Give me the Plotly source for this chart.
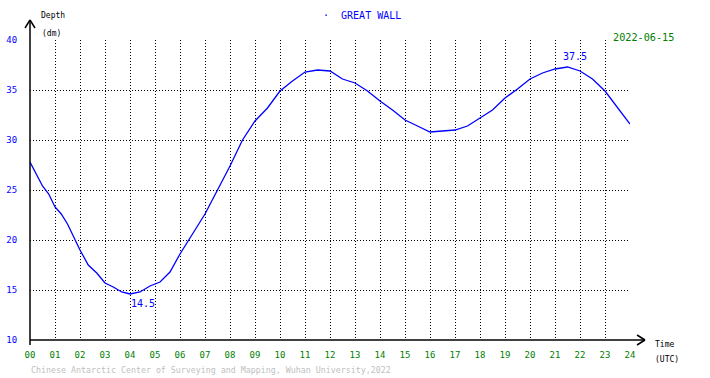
import plotly.graph_objects as go

# ---- data ----
hours = [0, 0.25, 0.5, 0.75, 1, 1.25, 1.5, 1.75, 2, 2.33, 2.67, 3, 3.33, 3.67, 4, 4.4, 4.8, 5.2, 5.6, 6, 6.5, 7,
         7.5, 8, 8.5, 9, 9.5, 10, 10.5, 11, 11.5, 12, 12.5, 13, 13.5, 14, 14.5, 15, 15.5, 16, 16.5,
         17, 17.5, 18, 18.5, 19, 19.5, 20, 20.5, 21, 21.5, 22, 22.5, 23, 23.5, 24]
depth = [27.8, 26.6, 25.4, 24.6, 23.3, 22.6, 21.6, 20.3, 19.0, 17.5, 16.7, 15.7, 15.3, 14.8, 14.6, 14.8, 15.4, 15.8, 16.8, 18.6, 20.6, 22.6,
         25.0, 27.4, 30.0, 31.9, 33.2, 34.9, 35.9, 36.8, 37.0, 36.9, 36.1, 35.7, 34.9, 33.9, 33.0, 32.0, 31.4, 30.8, 30.9,
         31.0, 31.4, 32.2, 33.0, 34.2, 35.1, 36.1, 36.7, 37.1, 37.3, 36.9, 36.1, 34.9, 33.2, 31.6]

x_tickvals = list(range(0, 25))
x_ticktext = ["%02d" % h for h in x_tickvals]
y_tickvals = [10, 15, 20, 25, 30, 35, 40]
y_ticktext = [str(v) for v in y_tickvals]

min_label = {"x": 4.5, "y": 14.5, "text": "14.5"}
max_label = {"x": 21.8, "y": 37.5, "text": "37.5"}

title_text = "GREAT WALL"
date_text = "2022-06-15"
footer_text = "Chinese Antarctic Center of Surveying and Mapping, Wuhan University,2022"

FONT = "DejaVu Sans Mono"

fig = go.Figure()
fig.add_trace(go.Scatter(x=hours, y=depth, mode="lines",
                         line=dict(color="#0000ff", width=1.3), hoverinfo="skip"))

fig.update_layout(
    width=710, height=378,
    margin=dict(l=30, r=80, t=40, b=38, autoexpand=False),
    paper_bgcolor="white", plot_bgcolor="white",
    showlegend=False,
    font=dict(family=FONT, size=9),
)

fig.update_xaxes(range=[0, 24], tickvals=x_tickvals, ticktext=x_ticktext,
                 showgrid=True, gridcolor="black", griddash="1px,2px", gridwidth=1,
                 zeroline=False, showline=False, automargin=False,
                 ticks="outside", ticklen=6, tickcolor="rgba(0,0,0,0)",
                 tickfont=dict(family=FONT, size=9, color="#008000"))
fig.update_yaxes(range=[10, 40], tickvals=y_tickvals, ticktext=y_ticktext,
                 showgrid=True, gridcolor="black", griddash="1px,2px", gridwidth=1,
                 zeroline=False, showline=False, automargin=False,
                 ticks="outside", ticklen=10, tickcolor="rgba(0,0,0,0)",
                 tickfont=dict(family=FONT, size=9, color="#0000ff"))

# axis lines with arrows (paper coords: x 600 px per unit, y 300 px per unit)
px = 1 / 600.0
py = 1 / 300.0
shapes = [
    # y axis
    dict(type="line", xref="paper", yref="paper", x0=0, x1=0, y0=-5 * py, y1=320 * py),
    dict(type="line", xref="paper", yref="paper", x0=-5 * px, x1=0, y0=312 * py, y1=320 * py),
    dict(type="line", xref="paper", yref="paper", x0=5 * px, x1=0, y0=312 * py, y1=320 * py),
    # x axis
    dict(type="line", xref="paper", yref="paper", x0=0, x1=615 * px, y0=0, y1=0),
    dict(type="line", xref="paper", yref="paper", x0=607 * px, x1=615 * px, y0=5 * py, y1=0),
    dict(type="line", xref="paper", yref="paper", x0=607 * px, x1=615 * px, y0=-5 * py, y1=0),
]
for s in shapes:
    s["line"] = dict(color="black", width=1.5)
fig.update_layout(shapes=shapes)

ann = [
    dict(x=min_label["x"], y=min_label["y"], xref="x", yref="y", text=min_label["text"],
         showarrow=False, yanchor="top", yshift=-1, font=dict(family=FONT, size=10, color="#0000ff")),
    dict(x=max_label["x"], y=max_label["y"], xref="x", yref="y", text=max_label["text"],
         showarrow=False, yanchor="bottom", yshift=1, font=dict(family=FONT, size=10, color="#0000ff")),
    dict(x=362, y=16, xref="paper", yref="paper", text="·  " + title_text, showarrow=False,
         font=dict(family=FONT, size=10, color="#0000ff")),
    dict(x=611, y=37, xref="paper", yref="paper", text=date_text, showarrow=False,
         font=dict(family=FONT, size=10.2, color="#008000")),
    dict(x=39, y=16, xref="paper", yref="paper", text="Depth", showarrow=False,
         font=dict(family=FONT, size=8, color="black")),
    dict(x=40, y=34, xref="paper", yref="paper", text="(dm)", showarrow=False,
         font=dict(family=FONT, size=8, color="black")),
    dict(x=653, y=344, xref="paper", yref="paper", text="Time", showarrow=False,
         font=dict(family=FONT, size=8, color="black")),
    dict(x=653, y=359, xref="paper", yref="paper", text="(UTC)", showarrow=False,
         font=dict(family=FONT, size=8, color="black")),
    dict(x=29, y=370, xref="paper", yref="paper", text=footer_text, showarrow=False,
         font=dict(family=FONT, size=8.3, color="#c0c0c0")),
]
# convert pixel positions (for text placement) to paper coordinates
for a in ann:
    if a["xref"] == "paper":
        xp, yp = a["x"], a["y"]
        a["x"] = (xp - 30) / 600.0
        a["y"] = (340 - yp) / 300.0
        a["xanchor"] = "center" if a["text"].startswith("·") else "left"
        a["yanchor"] = "middle"
fig.update_layout(annotations=ann)

fig.write_html("out.html", config={"displayModeBar": False},
               post_script="document.body.style.margin='0';document.body.style.overflow='hidden';")
